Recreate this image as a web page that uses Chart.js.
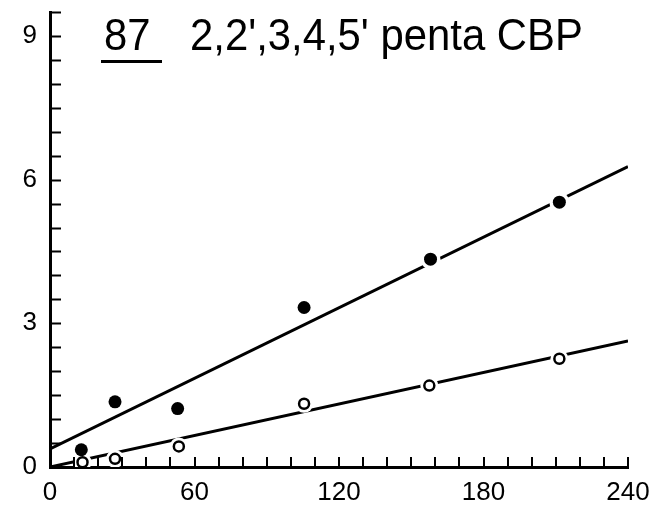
<!DOCTYPE html>
<html>
<head>
<meta charset="utf-8">
<script src="https://cdn.jsdelivr.net/npm/chart.js@4/dist/chart.umd.min.js"></script>
<style>
  html, body { margin: 0; padding: 0; background: #fff; }
  #wrap { width: 666px; height: 506px; }
</style>
</head>
<body>
<div id="wrap"><canvas id="chart-cbp" width="666" height="506"></canvas></div>
<script>
// values
const filledX = [13, 27, 53, 105.5, 158, 211.5];
const filledY = [0.36, 1.36, 1.22, 3.33, 4.34, 5.53];
const openX = [13.5, 27, 53.5, 105.5, 157.5, 211.5];
const openY = [0.10, 0.17, 0.43, 1.32, 1.70, 2.26];

// fitted lines (end points at x = 0 and x = 240)
const lineX = [0, 240];
const filledLineY = [0.38, 6.27];
const openLineY = [0.0, 2.63];

const xLabelTicks = [0, 60, 120, 180, 240];
const yLabelTicks = [0, 3, 6, 9];

const titleNumber = '87';
const titleText = "2,2',3,4,5' penta CBP";

const fontFamily = "'Liberation Sans', Arial, sans-serif";

function pts(xs, ys) {
    return xs.map((x, i) => ({ x: x, y: ys[i] }));
}

const chartContext = document.getElementById('chart-cbp');

// inward ticks + title
const axisTicksPlugin = {
    id: 'axisTicks',
    afterDraw(chart) {
        const ctx = chart.ctx;
        const area = chart.chartArea;
        const xs = chart.scales.x;
        const ys = chart.scales.y;
        ctx.save();
        ctx.strokeStyle = '#000';
        ctx.lineWidth = 2;
        ys.ticks.forEach(t => {
            const py = Math.round(ys.getPixelForValue(t.value)) + 0.5;
            ctx.beginPath();
            ctx.moveTo(area.left, py);
            ctx.lineTo(area.left + 11, py);
            ctx.stroke();
        });
        xs.ticks.forEach(t => {
            const px = Math.round(xs.getPixelForValue(t.value));
            ctx.beginPath();
            ctx.moveTo(px, area.bottom);
            ctx.lineTo(px, area.bottom - 10);
            ctx.stroke();
        });

        // title, a bit condensed like the original lettering
        ctx.fillStyle = '#000';
        ctx.font = '45px ' + fontFamily;
        ctx.textBaseline = 'alphabetic';
        ctx.textAlign = 'left';
        ctx.save();
        ctx.translate(104, 50);
        ctx.scale(0.93, 1);
        ctx.fillText(titleNumber, 0, 0);
        ctx.restore();
        ctx.fillRect(101, 60, 61, 3);
        ctx.save();
        ctx.translate(190, 50);
        ctx.scale(0.93, 1);
        ctx.fillText(titleText, 0, 0);
        ctx.restore();
        ctx.restore();
    }
};

var chartData = {
    datasets: [
        {
            type: 'line',
            label: 'fit filled',
            data: pts(lineX, filledLineY),
            borderColor: '#000',
            borderWidth: 3,
            pointRadius: 0,
            order: 5,
        },
        {
            type: 'line',
            label: 'fit open',
            data: pts(lineX, openLineY),
            borderColor: '#000',
            borderWidth: 3,
            pointRadius: 0,
            order: 5,
        },
        {
            // white halo so the lines break around the markers
            type: 'scatter',
            label: 'halo filled',
            data: pts(filledX, filledY),
            pointRadius: 10,
            pointBackgroundColor: '#fff',
            pointBorderWidth: 0,
            order: 3,
        },
        {
            type: 'scatter',
            label: 'halo open',
            data: pts(openX, openY),
            pointRadius: 9,
            pointBackgroundColor: '#fff',
            pointBorderWidth: 0,
            order: 3,
        },
        {
            type: 'scatter',
            label: 'filled',
            data: pts(filledX, filledY),
            pointRadius: 6.5,
            pointBackgroundColor: '#000',
            pointBorderColor: '#000',
            pointBorderWidth: 0,
            order: 1,
        },
        {
            type: 'scatter',
            label: 'open',
            data: pts(openX, openY),
            pointRadius: 5,
            pointBackgroundColor: '#fff',
            pointBorderColor: '#000',
            pointBorderWidth: 2.5,
            order: 1,
        },
    ]
};

const configChart = {
    type: 'scatter',
    data: chartData,
    options: {
        responsive: false,
        animation: false,
        events: [],
        layout: { padding: { top: 12, right: 38, bottom: 0, left: 0 } },
        plugins: {
            legend: { display: false },
            tooltip: { enabled: false },
            title: { display: false },
        },
        scales: {
            x: {
                type: 'linear',
                min: 0,
                max: 240,
                z: 1,
                afterFit(s) { s.height = 39; s.paddingLeft = 0; s.paddingRight = 0; },
                grid: { display: false, drawTicks: false },
                border: { display: true, color: '#000', width: 3 },
                ticks: {
                    stepSize: 10,
                    autoSkip: false,
                    maxRotation: 0,
                    padding: 10,
                    color: '#000',
                    font: { family: fontFamily, size: 26 },
                    callback: v => xLabelTicks.includes(v) ? String(v) : '',
                },
            },
            y: {
                type: 'linear',
                min: 0,
                max: 9.5,
                z: 1,
                afterFit(s) { s.width = 50; s.paddingTop = 0; s.paddingBottom = 0; },
                grid: { display: false, drawTicks: false },
                border: { display: true, color: '#000', width: 3 },
                ticks: {
                    stepSize: 0.5,
                    autoSkip: false,
                    padding: 13,
                    color: '#000',
                    font: { family: fontFamily, size: 26 },
                    callback: v => yLabelTicks.includes(v) ? String(v) : '',
                },
            },
        },
    },
    plugins: [axisTicksPlugin],
};

var chartCbp = new Chart(chartContext, configChart);
</script>
</body>
</html>
